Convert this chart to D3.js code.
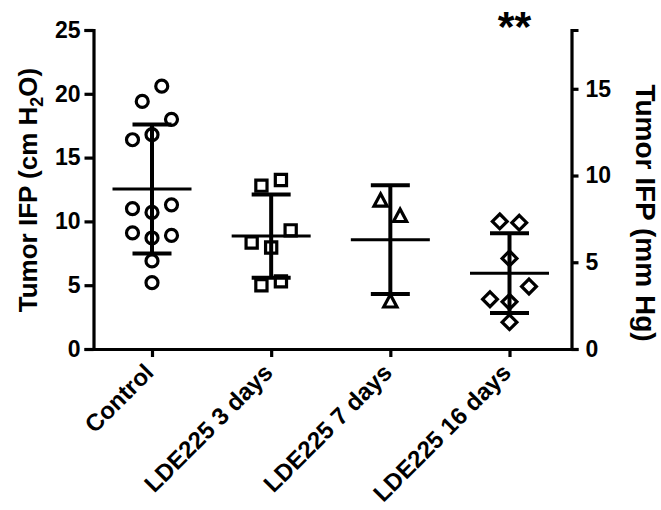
<!DOCTYPE html>
<meta charset="utf-8">
<script src="https://cdn.jsdelivr.net/npm/d3@7"></script>
<style>
body{margin:0;background:#fff;}
text{font-family:"Liberation Sans",Arial,sans-serif;font-weight:bold;fill:#000;}
</style>
<body>
<div id="chart"></div>
<script>
// groups on the x axis
var groups = ["Control", "LDE225 3 days", "LDE225 7 days", "LDE225 16 days"];
var shapes = ["circle", "square", "triangle", "diamond"];

// tumor IFP readings, cm H2O (order inside a group = left to right in a row)
var control = [19.4, 20.6, 16.4, 16.8, 18.0, 11.0, 10.7, 11.3, 9.1, 8.7, 8.9, 6.9, 5.2];
var lde3 = [12.8, 13.25, 8.35, 7.95, 9.3, 5.0, 5.3];
var lde7 = [11.6, 10.4, 3.7];
var lde16 = [10.0, 9.9, 7.1, 3.9, 3.7, 4.9, 2.1];
var series = [control, lde3, lde7, lde16];

var yTicks = [0, 5, 10, 15, 20, 25];
var y2Ticks = [0, 5, 10, 15];
var cmPerMmHg = 1.3595;
var stars = "**"; // over 16 days

var W = 661, H = 510;
var svg = d3.select("#chart").append("svg").attr("width", W).attr("height", H);

var x = d3.scalePoint().domain(groups).range([152, 509.5]);
var y = d3.scaleLinear().domain([0, 25]).range([349, 30]);
var y2 = d3.scaleLinear().domain([0, 25 / cmPerMmHg]).range([349, 30]);

var axL = 93.5, axR = 571.5;

// axes
var gl = svg.append("g").attr("transform", "translate(" + axL + ",0)")
    .call(d3.axisLeft(y).tickValues(yTicks).tickSize(9).tickPadding(4));
var gr = svg.append("g").attr("transform", "translate(" + axR + ",0)")
    .call(d3.axisRight(y2).tickValues(y2Ticks).tickSize(7).tickPadding(7));
var gb = svg.append("g").attr("transform", "translate(0,349)")
    .call(d3.axisBottom(x).tickSize(8).tickFormat(""));
gb.select(".domain").attr("d", "M" + axL + ",0.5H" + axR);

[gl, gr, gb].forEach(function(g){
  g.select(".domain").attr("stroke", "#000").attr("stroke-width", 3.2);
  g.selectAll(".tick line").attr("stroke", "#000").attr("stroke-width", 3.2);
  g.selectAll(".tick text").attr("font-size", 23).attr("font-weight", "bold")
    .attr("font-family", "Liberation Sans, Arial, sans-serif");
});

// category labels, rotated
svg.append("g").selectAll("text").data(groups).enter().append("text")
  .attr("transform", function(d){ return "translate(" + (x(d) + 3) + ",374) rotate(-45)"; })
  .attr("text-anchor", "end")
  .attr("font-size", 24)
  .text(function(d){ return d; });

// y titles
var t1 = svg.append("text")
  .attr("transform", "translate(37,190) rotate(-90)")
  .attr("text-anchor", "middle")
  .attr("font-size", 26);
t1.append("tspan").text("Tumor IFP (cm H");
t1.append("tspan").attr("font-size", 18).attr("dy", 6).text("2");
t1.append("tspan").attr("dy", -6).text("O)");

svg.append("text")
  .attr("transform", "translate(636,213) rotate(90)")
  .attr("text-anchor", "middle")
  .attr("font-size", 28)
  .text("Tumor IFP (mm Hg)");

svg.append("text")
  .attr("x", x(groups[3]) + 5).attr("y", 41)
  .attr("text-anchor", "middle")
  .attr("font-size", 43)
  .text(stars);

// place points: rows of close values are spread sideways
var step = 19.5, rowGap = 16;
function spread(vals){
  var idx = vals.map(function(v, i){ return i; })
    .sort(function(a, b){ return vals[b] - vals[a]; });
  var off = new Array(vals.length), row = [];
  function flush(){
    row.sort(function(a, b){ return a - b; });
    row.forEach(function(k, j){ off[k] = (j - (row.length - 1) / 2) * step; });
    row = [];
  }
  idx.forEach(function(i){
    if (row.length && y(vals[i]) - y(vals[row[row.length - 1]]) >= rowGap) flush();
    row.push(i);
  });
  flush();
  return off;
}

var symbolPath = {
  circle: function(){ return d3.symbol(d3.symbolCircle, 113)(); },
  square: function(){ return "M-5.6,-5.6H5.6V5.6H-5.6Z"; },
  triangle: function(){ return "M0,-7.2L6.6,5.2H-6.6Z"; },
  diamond: function(){ return "M0,-7.4L7.4,0L0,7.4L-7.4,0Z"; }
};

series.forEach(function(vals, gi){
  var cx = x(groups[gi]);
  var off = spread(vals);
  var m = d3.mean(vals), sd = d3.deviation(vals);
  var g = svg.append("g");

  g.selectAll("path.pt").data(vals).enter().append("path")
    .attr("class", "pt")
    .attr("transform", function(d, i){ return "translate(" + (cx + off[i]) + "," + y(d) + ")"; })
    .attr("d", symbolPath[shapes[gi]]())
    .attr("fill", "none").attr("stroke", "#000").attr("stroke-width", 3.2)
    .attr("stroke-linejoin", "miter");

  // mean +/- SD
  g.append("line").attr("x1", cx).attr("x2", cx)
    .attr("y1", y(m + sd)).attr("y2", y(m - sd))
    .attr("stroke", "#000").attr("stroke-width", 4);
  [m + sd, m - sd].forEach(function(v){
    g.append("line").attr("x1", cx - 19.5).attr("x2", cx + 19.5)
      .attr("y1", y(v)).attr("y2", y(v))
      .attr("stroke", "#000").attr("stroke-width", 4);
  });
  g.append("line").attr("x1", cx - 39.5).attr("x2", cx + 39.5)
    .attr("y1", y(m)).attr("y2", y(m))
    .attr("stroke", "#000").attr("stroke-width", 3);
});
</script>
</body>
